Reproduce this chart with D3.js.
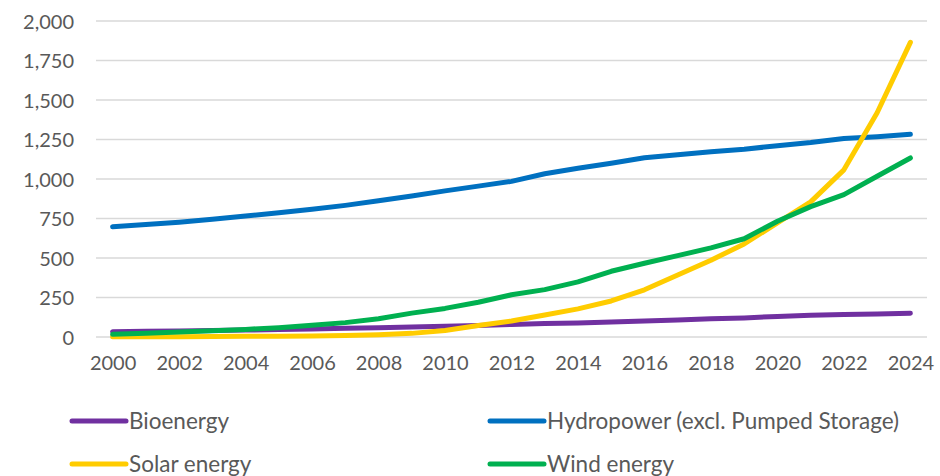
<!DOCTYPE html>
<html>
<head>
<meta charset="utf-8">
<script src="https://cdn.jsdelivr.net/npm/d3@7"></script>
<style>
  html, body { margin: 0; padding: 0; background: #fff; }
  svg text { font-family: Lato, "Open Sans", sans-serif; fill: #595959; }
</style>
</head>
<body>
<svg id="chart" width="940" height="476"></svg>
<script>
// Installed capacity by technology, 2000–2024
const years = d3.range(2000, 2025);
const bioenergy = [34, 36, 38, 41, 44, 47, 51, 55, 58, 63, 68, 73, 79, 85, 89, 95, 102, 108, 116, 121, 130, 138, 143, 146, 150];
const hydropower = [698, 712, 727, 745, 766, 786, 808, 833, 862, 892, 925, 955, 985, 1033, 1068, 1100, 1135, 1153, 1172, 1188, 1211, 1231, 1256, 1268, 1283];
const solar = [1, 1, 2, 3, 4, 5, 6, 9, 15, 23, 41, 73, 101, 139, 178, 228, 299, 392, 486, 589, 722, 855, 1058, 1419, 1865];
const wind = [17, 24, 31, 39, 48, 59, 74, 91, 115, 151, 181, 220, 267, 300, 349, 416, 467, 515, 564, 622, 733, 825, 901, 1017, 1133];
const yTicks = [0, 250, 500, 750, 1000, 1250, 1500, 1750, 2000];
const xTickYears = years.filter(y => y % 2 === 0);

const series = [
  { name: "Bioenergy", values: bioenergy, color: "#7030A0" },
  { name: "Hydropower (excl. Pumped Storage)", values: hydropower, color: "#0070C0" },
  { name: "Solar energy", values: solar, color: "#FFCC00" },
  { name: "Wind energy", values: wind, color: "#00B050" }
];

const svg = d3.select("#chart");
const plot = { left: 96, right: 927, top: 21, bottom: 337 };

const x = d3.scalePoint().domain(years).range([plot.left, plot.right]).padding(0.5);
const y = d3.scaleLinear().domain([0, 2000]).range([plot.bottom, plot.top]);

// Horizontal gridlines
svg.append("g")
  .selectAll("line")
  .data(yTicks)
  .join("line")
  .attr("x1", plot.left).attr("x2", plot.right)
  .attr("y1", d => y(d)).attr("y2", d => y(d))
  .attr("stroke", "#D9D9D9").attr("stroke-width", 1.3);

// Y axis labels
const yAxis = svg.append("g")
  .attr("transform", `translate(${plot.left - 22},0)`)
  .call(d3.axisLeft(y).tickValues(yTicks).tickSize(0).tickPadding(0).tickFormat(d3.format(",")));
yAxis.select(".domain").remove();
yAxis.selectAll("text").style("font-size", "20px").attr("fill", "#595959").attr("dy", "0.35em");

// X axis labels
const xAxis = svg.append("g")
  .attr("transform", `translate(0,${plot.bottom + 14})`)
  .call(d3.axisBottom(x).tickValues(xTickYears).tickSize(0).tickPadding(0));
xAxis.select(".domain").remove();
xAxis.selectAll("text").style("font-size", "20px").attr("fill", "#595959").attr("dy", "0.95em");

// Series lines
const line = d3.line()
  .x((d, i) => x(years[i]))
  .y(d => y(d));

svg.append("g")
  .selectAll("path")
  .data(series)
  .join("path")
  .attr("d", d => line(d.values))
  .attr("fill", "none")
  .attr("stroke", d => d.color)
  .attr("stroke-width", 5)
  .attr("stroke-linecap", "round")
  .attr("stroke-linejoin", "round");

// Legend, two columns
const legendPos = [
  { x: 72, y: 421 }, { x: 490, y: 421 },
  { x: 72, y: 464 }, { x: 490, y: 464 }
];
const legend = svg.append("g")
  .selectAll("g")
  .data(series)
  .join("g")
  .attr("transform", (d, i) => `translate(${legendPos[i].x},${legendPos[i].y})`);
legend.append("line")
  .attr("x1", 0).attr("x2", 54)
  .attr("stroke", d => d.color)
  .attr("stroke-width", 5)
  .attr("stroke-linecap", "round");
legend.append("text")
  .attr("x", 57).attr("dy", "0.35em")
  .style("font-size", "22.5px")
  .text(d => d.name);
</script>
</body>
</html>
